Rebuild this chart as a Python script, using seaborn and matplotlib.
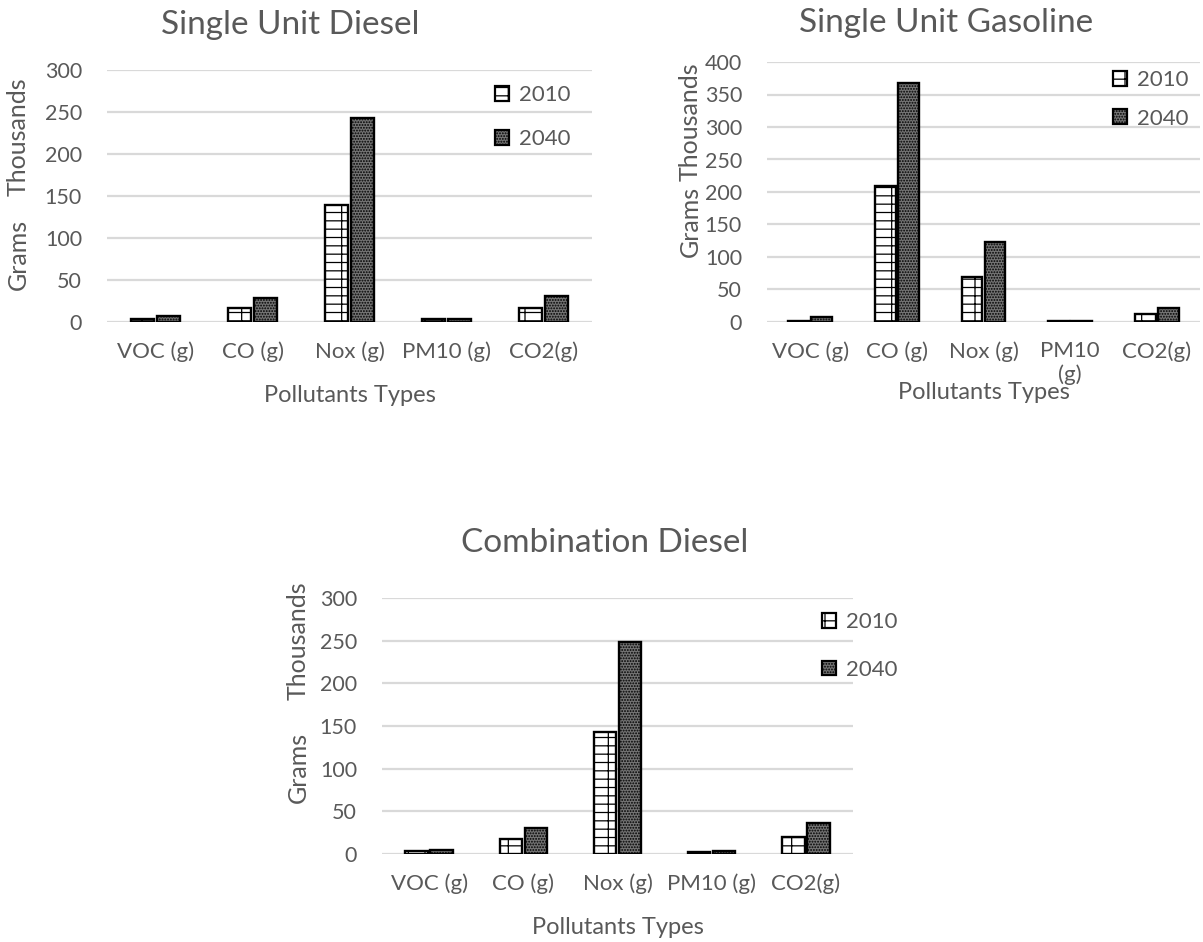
import matplotlib
matplotlib.use("Agg")
import matplotlib.pyplot as plt
import matplotlib.patches as mpatches
import seaborn as sns
import pandas as pd

# 数据（图上单位：Grams, Thousands）
pollutants = ["VOC (g)", "CO (g)", "Nox (g)", "PM10 (g)", "CO2(g)"]
years = ["2010", "2040"]

su_diesel_2010 = [4, 17, 139, 3, 17]
su_diesel_2040 = [7, 29, 243, 3, 31]

su_gas_2010 = [2, 209, 69, 2, 13]
su_gas_2040 = [7, 367, 123, 2, 22]

comb_diesel_2010 = [3, 17, 143, 2, 20]
comb_diesel_2040 = [5, 30, 249, 3, 36]

GREY = "#595959"
GRID = "#d9d9d9"
HATCHES = {"2010": "--|", "2040": "......"}
FACES = {"2010": "white", "2040": "#747474"}


def make_df(v2010, v2040):
    return pd.DataFrame({
        "pollutant": pollutants * 2,
        "year": ["2010"] * 5 + ["2040"] * 5,
        "value": v2010 + v2040,
    })


def draw(ax, df, ymax, ticklabels, xlabel_y, legend_xy, legend_spacing):
    sns.barplot(data=df, x="pollutant", y="value", hue="year", ax=ax,
                order=pollutants, hue_order=years, width=0.53, gap=0.1,
                palette=["white", "white"], edgecolor="black", linewidth=1.7,
                legend=False)
    # 每个柱子的填充样式
    n = len(pollutants)
    for i, bar in enumerate(ax.patches[:2 * n]):
        yr = years[i // n]
        bar.set_hatch(HATCHES[yr])
        bar.set_facecolor(FACES[yr])
    ax.set_ylim(0, ymax)
    ax.set_xlim(-0.5, 4.5)
    ax.set_yticks(range(0, ymax + 1, 50))
    ax.yaxis.grid(True, color=GRID, linewidth=1.6)
    ax.set_axisbelow(True)
    for s in ax.spines.values():
        s.set_visible(False)
    ax.tick_params(axis="both", length=0, colors=GREY)
    ax.tick_params(axis="x", pad=14, labelsize=16)
    ax.tick_params(axis="y", pad=18, labelsize=15.5)
    ax.set_xticks(range(n))
    ax.set_xticklabels(ticklabels)
    ax.set_xlabel("Pollutants Types", fontsize=17, color=GREY)
    ax.xaxis.label.set_va("center")
    ax.xaxis.set_label_coords(0.5, xlabel_y)
    ax.set_ylabel("")

    handles = [mpatches.Patch(facecolor=FACES[y], hatch=HATCHES[y],
                              edgecolor="black", linewidth=1.6, label=y)
               for y in years]
    ax.legend(handles=handles, loc="upper left", bbox_to_anchor=legend_xy,
              bbox_transform=ax.figure.transFigure, frameon=False,
              fontsize=16, labelcolor=GREY, handlelength=0.65,
              handleheight=0.65, handletextpad=0.45,
              labelspacing=legend_spacing, borderpad=0, borderaxespad=0)


sns.set_theme(style="white")
plt.rcParams["font.family"] = ["Lato", "DejaVu Sans"]
plt.rcParams["hatch.linewidth"] = 0.9

fig = plt.figure(figsize=(12.03, 9.42), dpi=100)
W, H = 1203, 942


def axes_px(left, top, right, bottom):
    return fig.add_axes([left / W, 1 - bottom / H, (right - left) / W, (bottom - top) / H])


ax1 = axes_px(107, 70, 592, 322)
ax2 = axes_px(767, 62, 1200, 322)
ax3 = axes_px(382, 598, 853, 854)

draw(ax1, make_df(su_diesel_2010, su_diesel_2040), 300, pollutants,
     -0.29, (495 / W, 1 - 85 / H), 1.1)
draw(ax2, make_df(su_gas_2010, su_gas_2040), 400,
     ["VOC (g)", "CO (g)", "Nox (g)", "PM10\n(g)", "CO2(g)"],
     -0.273, (1113 / W, 1 - 70 / H), 0.84)
draw(ax3, make_df(comb_diesel_2010, comb_diesel_2040), 300, pollutants,
     -0.288, (822 / W, 1 - 612 / H), 1.25)

# 图标题（以整个图表区域居中）
ttl = dict(fontsize=24, color=GREY, ha="center", va="center")
fig.text(290 / W, 1 - 25 / H, "Single Unit Diesel", **ttl)
fig.text(946 / W, 1 - 23 / H, "Single Unit Gasoline", **ttl)
fig.text(605 / W, 1 - 543 / H, "Combination Diesel", **ttl)

# y 轴标题：Grams + 显示单位 Thousands
ylab = dict(rotation=90, fontsize=18, color=GREY, ha="center", va="center")
fig.text(18 / W, 1 - 254 / H, "Grams", **ylab)
fig.text(18 / W, 1 - 137 / H, "Thousands", **ylab)
fig.text(690 / W, 1 - 221 / H, "Grams", **ylab)
fig.text(690 / W, 1 - 122 / H, "Thousands", **ylab)
fig.text(298 / W, 1 - 767 / H, "Grams", **ylab)
fig.text(298 / W, 1 - 641 / H, "Thousands", **ylab)

fig.savefig("out.png", dpi=100, facecolor="white")
